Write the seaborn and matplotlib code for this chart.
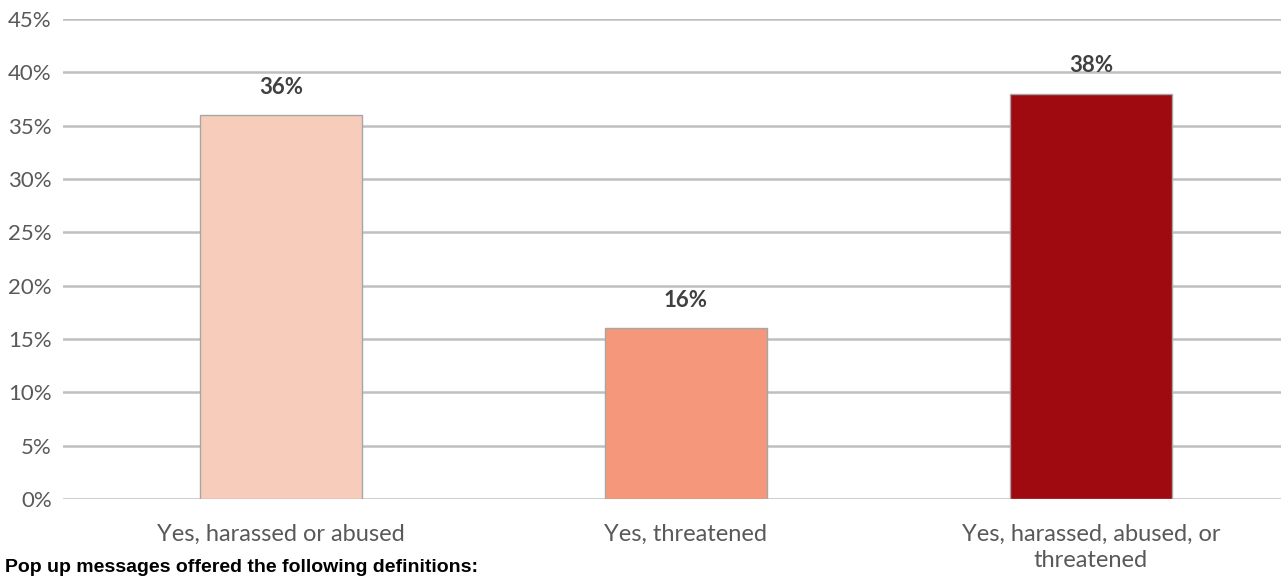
import numpy as np
import pandas as pd
import matplotlib.pyplot as plt
import seaborn as sns

# data
categories = ["Yes, harassed or abused", "Yes, threatened",
              "Yes, harassed, abused, or\nthreatened"]
shares = [0.36, 0.16, 0.38]
bar_colors = ["#F8CCBA", "#F4977A", "#9E0A10"]
y_ticks = [0.0, 0.05, 0.10, 0.15, 0.20, 0.25, 0.30, 0.35, 0.40, 0.45]

df = pd.DataFrame({"category": categories, "share": shares})

sns.set_theme(style="white")
plt.rcParams["font.family"] = ["Lato", "DejaVu Sans"]

fig = plt.figure(figsize=(12.81, 5.78), dpi=100)
ax = fig.add_axes([63 / 1281, 1 - 499 / 578, 1 - 63 / 1281, (499 - 19) / 578])

sns.barplot(data=df, x="category", y="share", hue="category",
            palette=bar_colors, saturation=1, legend=False, width=0.4,
            edgecolor="#A6A6A6", linewidth=1.0, ax=ax, zorder=3)

ax.set_ylim(0, 0.45)
ax.set_xlim(-0.538, 2.469)
ax.set_yticks(y_ticks)
ax.set_yticklabels([f"{int(round(t * 100))}%" for t in y_ticks])
ax.yaxis.grid(True, color="#BFBFBF", linewidth=1.8, zorder=0)
ax.set_axisbelow(True)
for s in ax.spines.values():
    s.set_visible(False)
ax.tick_params(axis="y", length=0, pad=8, labelsize=16, labelcolor="#595959")
ax.tick_params(axis="x", length=0, pad=18, labelsize=17, labelcolor="#595959")
for lab in ax.get_xticklabels():
    lab.set_linespacing(1.3)
ax.set_xlabel("")
ax.set_ylabel("")

for i, v in enumerate(shares):
    ax.annotate(f"{int(round(v * 100))}%", (i, v), xytext=(0, 20),
                textcoords="offset points", ha="center", va="center",
                fontsize=16, fontweight="bold", color="#404040")

fig.text(5 / 1281, 1 - 567 / 578, "Pop up messages offered the following definitions:",
         family="Liberation Sans", fontsize=14, fontweight="bold", color="black",
         ha="left", va="center")

fig.savefig("out.png", dpi=100)
